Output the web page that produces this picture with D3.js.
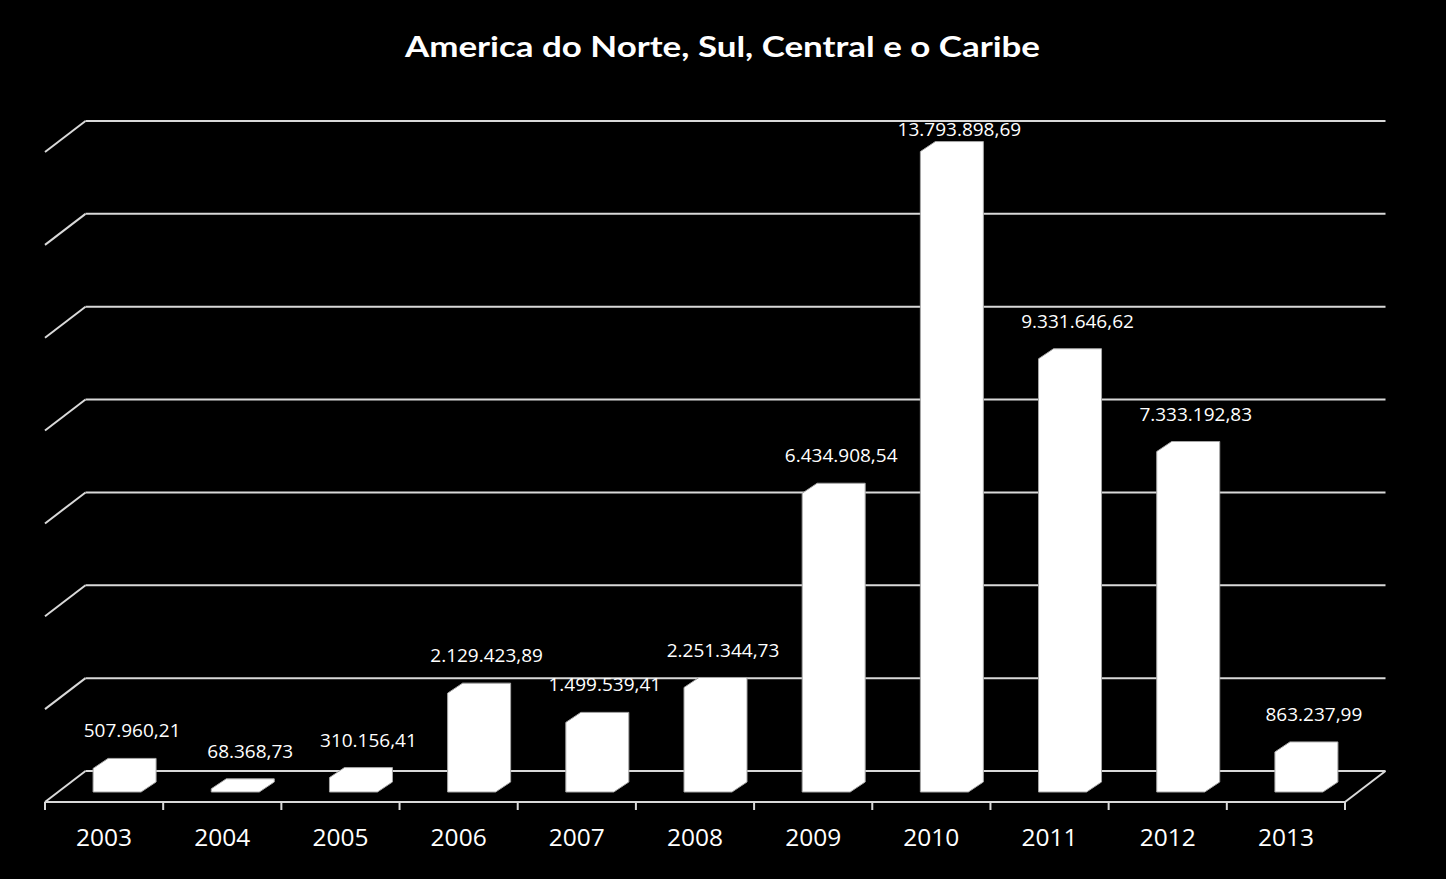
<!DOCTYPE html>
<html>
<head>
<meta charset="utf-8">
<script src="https://cdn.jsdelivr.net/npm/d3@7"></script>
<style>
  html, body { margin: 0; padding: 0; background: #000; }
  svg { display: block; }
</style>
</head>
<body>
<svg id="chart" width="1446" height="879"></svg>
<script>
const title = "America do Norte, Sul, Central e o Caribe";
const categories = ["2003","2004","2005","2006","2007","2008","2009","2010","2011","2012","2013"];
const values = [507960.21, 68368.73, 310156.41, 2129423.89, 1499539.41, 2251344.73, 6434908.54, 13793898.69, 9331646.62, 7333192.83, 863237.99];
const gridTicks = [0, 2000000, 4000000, 6000000, 8000000, 10000000, 12000000, 14000000];

const W = 1446, H = 879;
const svg = d3.select("#chart");
svg.append("rect").attr("width", W).attr("height", H).attr("fill", "#000");

// 3D frame geometry
const frontLeft = 45, frontRight = 1345, frontBase = 802;
const depthX = 40.5, depthY = -31;
const plotH = 650;

const x = d3.scaleBand().domain(categories).range([frontLeft, frontRight]).paddingInner(0).paddingOuter(0);
const h = d3.scaleLinear().domain([0, 14000000]).range([0, plotH]);

const locale = d3.formatLocale({decimal: ",", thousands: ".", grouping: [3], currency: ["", ""]});
const fmt = locale.format(",.2f");

const gridColor = "#d9d9d9";
const g = svg.append("g");

// back wall gridlines + left wall diagonals
gridTicks.forEach(v => {
  const yb = frontBase + depthY - h(v);
  g.append("line")
    .attr("x1", frontLeft + depthX).attr("x2", frontRight + depthX)
    .attr("y1", yb).attr("y2", yb)
    .attr("stroke", gridColor).attr("stroke-width", 2);
  g.append("line")
    .attr("x1", frontLeft).attr("y1", yb - depthY)
    .attr("x2", frontLeft + depthX).attr("y2", yb)
    .attr("stroke", gridColor).attr("stroke-width", 2);
});

// floor: front baseline and right diagonal
g.append("line").attr("x1", frontLeft).attr("x2", frontRight)
  .attr("y1", frontBase).attr("y2", frontBase)
  .attr("stroke", gridColor).attr("stroke-width", 2);
g.append("line").attr("x1", frontRight).attr("y1", frontBase)
  .attr("x2", frontRight + depthX).attr("y2", frontBase + depthY)
  .attr("stroke", gridColor).attr("stroke-width", 2);

// tick marks on front baseline
const tickXs = categories.map(c => x(c)).concat([frontRight]);
tickXs.forEach(tx => {
  g.append("line").attr("x1", tx).attr("x2", tx)
    .attr("y1", frontBase).attr("y2", frontBase + 8)
    .attr("stroke", gridColor).attr("stroke-width", 2);
});

// bars
const barW = 48;
const offX = 13, offY = -10;   // bar front plane offset from front baseline
const bdx = 15, bdy = -10;     // bar depth
const barG = svg.append("g");
categories.forEach((c, i) => {
  const v = values[i];
  const cx = x(c) + x.bandwidth() / 2 + offX;
  const x0 = cx - barW / 2, x1 = cx + barW / 2;
  const yb = frontBase + offY;
  const yt = yb - h(v);
  const pts = [
    [x0, yb], [x0, yt], [x0 + bdx, yt + bdy], [x1 + bdx, yt + bdy],
    [x1 + bdx, yb + bdy], [x1, yb]
  ];
  barG.append("path")
    .attr("d", "M" + pts.map(p => p.join(",")).join("L") + "Z")
    .attr("fill", "#fff").attr("stroke", "#a6a6a6").attr("stroke-width", 1);

  const ly = Math.max(yt + bdy - 26, 131);
  svg.append("text")
    .attr("x", cx + bdx).attr("y", ly)
    .attr("text-anchor", "middle").attr("dominant-baseline", "middle")
    .attr("fill", "#fff")
    .attr("font-family", "'Open Sans', sans-serif").attr("font-size", 19)
    .text(fmt(v));
});

// category labels
categories.forEach(c => {
  svg.append("text")
    .attr("x", x(c) + x.bandwidth() / 2).attr("y", 846)
    .attr("text-anchor", "middle")
    .attr("fill", "#fff")
    .attr("font-family", "'Open Sans', sans-serif").attr("font-size", 24.5)
    .text(c);
});

// title
svg.append("text")
  .attr("x", 722.5).attr("y", 57)
  .attr("text-anchor", "middle")
  .attr("fill", "#fff")
  .attr("font-family", "Lato, 'Open Sans', sans-serif").attr("font-weight", "bold")
  .attr("font-size", 29)
  .attr("textLength", 635).attr("lengthAdjust", "spacingAndGlyphs")
  .text(title);
</script>
</body>
</html>
